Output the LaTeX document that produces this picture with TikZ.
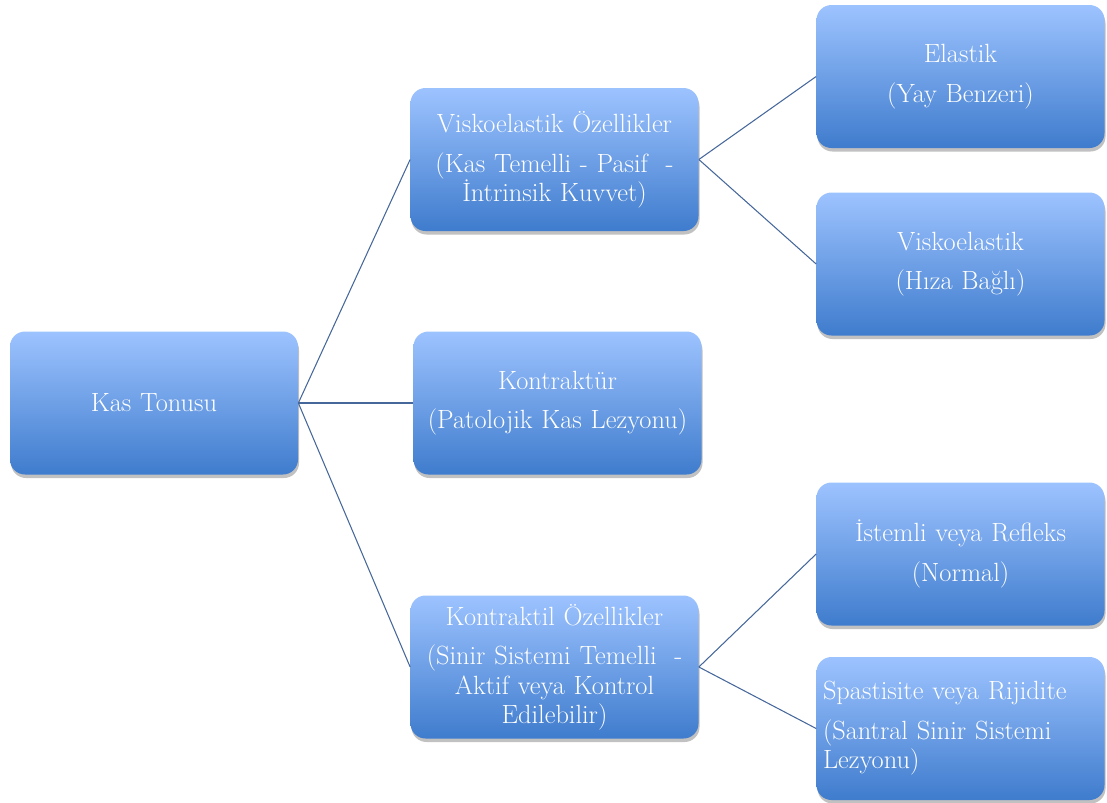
\documentclass[tikz,border=0pt]{standalone}
\usepackage{tikz}
\usetikzlibrary{positioning, calc, shadows}
\usepackage{xcolor}
\definecolor{boxtop}{HTML}{9DC3FF}
\definecolor{boxbot}{HTML}{3F7CCD}
\definecolor{link}{HTML}{46679A}

\begin{document}
\begin{tikzpicture}[
  box/.style={rounded corners=0.3cm, minimum width=5.76cm, minimum height=2.86cm,
    text width=5.5cm, align=center, text=white, inner sep=0pt,
    top color=boxtop, bottom color=boxbot,
    drop shadow={shadow xshift=0.02cm, shadow yshift=-0.07cm, opacity=0.35, fill=black!70},
    font=\fontsize{15}{16.6}\selectfont},
  link/.style={draw=link, line width=0.6pt}]
\useasboundingbox (0,0) rectangle (22.14,-16.04);
% nodes
\node[box] (kas) at (3.08, -8.06) {Kas Tonusu};
\node[box] (visko) at (11.09, -3.19) {Viskoelastik Özellikler\\[6pt] (Kas Temelli - Pasif\ \ -\\ İntrinsik Kuvvet)};
\node[box] (kontr) at (11.15, -8.06) {Kontraktür\\[6pt] (Patolojik Kas Lezyonu)};
\node[box] (kontil) at (11.09, -13.34) {Kontraktil Özellikler\\[6pt] (Sinir Sistemi Temelli\ \ -\\ Aktif veya Kontrol\\ Edilebilir)};
\node[box] (elastik) at (19.21, -1.53) {Elastik\\[6pt] (Yay Benzeri)};
\node[box] (hiz) at (19.21, -5.28) {Viskoelastik\\[6pt] (Hıza Bağlı)};
\node[box] (istemli) at (19.21, -11.08) {İstemli veya Refleks\\[6pt] (Normal)};
\node[box, align=left] (spast) at (19.21, -14.57) {Spastisite veya Rijidite\\[6pt] (Santral Sinir Sistemi\\ Lezyonu)};
% lines
\draw[link] (kas.east) -- (visko.west);
\draw[link] (kas.east) -- (kontr.west);
\draw[link] (kas.east) -- (kontil.west);
\draw[link] (visko.east) -- (elastik.west);
\draw[link] (visko.east) -- (hiz.west);
\draw[link] (kontil.east) -- (istemli.west);
\draw[link] (kontil.east) -- (spast.west);
\end{tikzpicture}
\end{document}
